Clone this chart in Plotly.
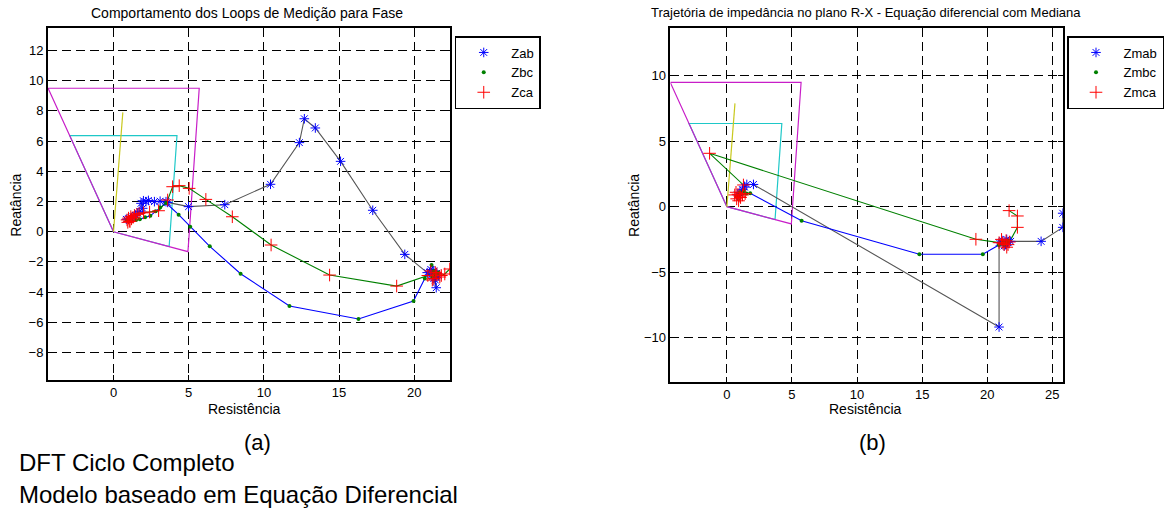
import plotly.graph_objects as go

W, H = 1164, 513
FONT = "Liberation Sans, Arial, sans-serif"

# ---------------- data: plot (a) ----------------
zab_r = [0.85, 1.0, 1.15, 1.3, 1.45, 1.61, 1.75, 1.94, 1.83, 1.99, 2.16, 2.32, 2.72, 3.1, 3.49, 3.6,
         4.99, 7.4, 10.44, 12.36, 12.69, 13.42, 15.1, 17.24, 19.37, 20.86,
         21.1, 21.3, 21.5, 21.2, 21.4, 21.6, 21.3, 21.46, 21.35, 21.2]
zab_x = [0.82, 0.86, 0.9, 0.98, 1.08, 1.22, 1.35, 1.55, 1.88, 2.05, 1.99, 2.07, 1.99, 2.02, 1.99, 1.94,
         1.66, 1.79, 3.14, 5.9, 7.48, 6.87, 4.66, 1.42, -1.5, -2.71,
         -2.5, -2.6, -2.75, -3.0, -3.2, -2.9, -3.1, -3.71, -2.85, -2.8]

zbc_r = [0.9, 1.2, 1.5, 1.75, 2.1, 2.45, 2.8, 3.1, 3.5, 4.33, 5.1, 6.4, 8.45, 11.7, 16.29, 19.95,
         20.7, 21.15, 21.3, 21.5, 21.2, 21.4, 21.6, 21.3]
zbc_x = [0.75, 0.72, 0.78, 0.83, 0.95, 1.05, 1.35, 1.6, 1.9, 1.13, 0.33, -0.97, -2.78, -4.92, -5.78, -4.59,
         -3.1, -2.2, -2.6, -2.8, -3.0, -2.9, -2.7, -2.85]

zca_r = [0.95, 1.05, 0.9, 1.1, 1.2, 1.0, 1.3, 1.15, 1.4, 1.55, 1.7, 2.0, 2.4, 3.0, 3.6, 3.93, 4.37, 5.03,
         6.14, 7.9, 10.48, 14.37, 18.83, 20.9, 21.1, 21.3, 21.5, 21.7, 21.2, 21.4, 21.8, 22.03, 22.36]
zca_x = [0.62, 0.7, 0.78, 0.68, 0.85, 0.9, 0.95, 1.0, 1.08, 1.15, 1.2, 1.25, 1.3, 1.39, 2.1, 2.98, 3.05, 2.87,
         2.14, 0.99, -0.88, -2.87, -3.6, -2.9, -2.6, -3.1, -2.8, -3.0, -3.2, -2.7, -2.9, -2.8, -2.47]

# ---------------- data: plot (b) ----------------
zmab_r = [0.8, 1.0, 1.2, 1.35, 1.53, 2.04, 20.91, 20.91, 21.2, 21.4, 21.6, 21.3, 21.5, 21.8, 24.14, 25.8, 25.8]
zmab_x = [0.9, 1.1, 1.3, 1.5, 1.7, 1.7, -9.2, -2.75, -2.6, -2.9, -2.7, -3.0, -2.5, -2.65, -2.65, -1.58, -0.5]

zmbc_r = [0.8, 1.0, 1.3, 1.5, 1.79, 5.74, 14.79, 19.66, 20.9, 21.2, 21.4, 21.6, 21.3, 21.5]
zmbc_x = [0.8, 1.1, 1.2, 1.0, 1.02, -1.07, -3.64, -3.64, -2.93, -2.7, -2.8, -2.6, -2.9, -2.75]

zmca_r = [0.6, 0.75, 0.9, 1.05, 0.7, 0.85, 1.0, 1.2, 1.4, 1.27, -1.33, 19.13, 20.91, 21.1, 21.3, 21.5,
          21.7, 21.2, 21.45, 21.6, 22.32, 22.32, 21.68]
zmca_x = [0.9, 0.6, 0.45, 0.7, 1.1, 0.95, 0.8, 0.9, 1.0, 1.66, 4.08, -2.49, -2.75, -2.5, -2.9, -3.1,
          -2.7, -2.8, -2.6, -2.9, -1.58, -0.71, -0.3]

# ---------------- relay zone characteristics (both plots) ----------------
zone2_r = [-4.35, 5.7, 4.95, 0, -4.35]
zone2_x = [9.5, 9.5, -1.32, 0, 9.5]
zone1_r = [0, 3.7, 4.22, -2.91, 0]
zone1_x = [0, -0.98, 6.36, 6.36, 0]
dir_r = [0, 0.62]
dir_x = [0, 7.9]

# ---------------- labels ----------------
names_a = ["Zab", "Zbc", "Zca"]
names_b = ["Zmab", "Zmbc", "Zmca"]
title_a = "Comportamento dos Loops de Medição para Fase"
title_b = "Trajetória de impedância no plano R-X - Equação diferencial com Mediana"
xlab = "Resistência"
ylab = "Reatância"
xt_a = [0, 5, 10, 15, 20]
yt_a = [-8, -6, -4, -2, 0, 2, 4, 6, 8, 10, 12]
xt_b = [0, 5, 10, 15, 20, 25]
yt_b = [-10, -5, 0, 5, 10]

BLUE, GREEN, RED, GRAY = "#0000ff", "#008000", "#ff0000", "#555555"
MAG, CYA, YEL = "#c81ec8", "#1ec8c8", "#c8c81e"

fig = go.Figure()


def add_panel(xa, ya, leg, r1, x1, r2, x2, r3, x3, names):
    for rr, xx, col in [(zone1_r, zone1_x, CYA), (zone2_r, zone2_x, MAG), (dir_r, dir_x, YEL)]:
        fig.add_trace(go.Scatter(x=rr, y=xx, mode="lines", line=dict(color=col, width=1.2),
                                 xaxis=xa, yaxis=ya, showlegend=False, hoverinfo="skip"))
    for rr, xx, col in [(r1, x1, GRAY), (r2, x2, BLUE), (r3, x3, GREEN)]:
        fig.add_trace(go.Scatter(x=rr, y=xx, mode="lines", line=dict(color=col, width=1.1),
                                 xaxis=xa, yaxis=ya, showlegend=False, hoverinfo="skip"))
    fig.add_trace(go.Scatter(x=r1, y=x1, mode="markers", name=names[0], legend=leg,
                             marker=dict(symbol="asterisk-open", size=8, color=BLUE, line=dict(width=1)),
                             xaxis=xa, yaxis=ya))
    fig.add_trace(go.Scatter(x=r2, y=x2, mode="markers", name=names[1], legend=leg,
                             marker=dict(symbol="circle", size=4, color=GREEN),
                             xaxis=xa, yaxis=ya))
    fig.add_trace(go.Scatter(x=r3, y=x3, mode="markers", name=names[2], legend=leg,
                             marker=dict(symbol="cross-thin-open", size=9, color=RED, line=dict(width=1)),
                             xaxis=xa, yaxis=ya))


add_panel("x", "y", "legend", zab_r, zab_x, zbc_r, zbc_x, zca_r, zca_x, names_a)
add_panel("x2", "y2", "legend2", zmab_r, zmab_x, zmbc_r, zmbc_x, zmca_r, zmca_x, names_b)

ax_common = dict(showline=True, linecolor="black", linewidth=1.5, mirror="ticks",
                 ticks="inside", ticklen=5, tickcolor="black", tickwidth=1,
                 showgrid=True, gridcolor="black", gridwidth=1, griddash="9px,5px",
                 zeroline=False, tickfont=dict(family=FONT, size=13, color="black"),
                 fixedrange=True)

leg_common = dict(y=1 - 36 / H, xanchor="left", yanchor="top", bgcolor="white",
                  bordercolor="black", borderwidth=1.5, itemwidth=45,
                  font=dict(family=FONT, size=13, color="black"))

fig.update_layout(
    width=W, height=H, margin=dict(l=0, r=0, t=0, b=0),
    paper_bgcolor="white", plot_bgcolor="white",
    font=dict(family=FONT, color="black"),
    xaxis=dict(domain=[48 / W, 452 / W], range=[-4.37, 22.38], tickvals=xt_a, anchor="y", **ax_common),
    yaxis=dict(domain=[1 - 380 / H, 1 - 28 / H], range=[-9.82, 13.49], tickvals=yt_a, anchor="x", **ax_common),
    xaxis2=dict(domain=[673.3 / W, 1067.3 / W], range=[-4.34, 25.8], tickvals=xt_b, anchor="y2", **ax_common),
    yaxis2=dict(domain=[1 - 381.7 / H, 1 - 28 / H], range=[-13.38, 13.66], tickvals=yt_b, anchor="x2", **ax_common),
    legend=dict(x=456.7 / W, **leg_common),
    legend2=dict(x=1071.7 / W, **leg_common),
)


def txt(text, xp, yp, size, xanchor="center", angle=0):
    fig.add_annotation(text=text, x=xp / W, y=1 - yp / H, xref="paper", yref="paper",
                       xanchor=xanchor, yanchor="middle", showarrow=False, textangle=angle,
                       font=dict(family=FONT, size=size, color="black"))


txt(title_a, 247.9, 12.5, 14)
txt(title_b, 869.7, 12.5, 13)
txt(xlab, 245.3, 409, 14)
txt(xlab, 869.7, 409, 14)
txt(ylab, 15.8, 205, 14, angle=-90)
txt(ylab, 636.7, 205, 14, angle=-90)
txt("(a)", 258.8, 442, 22)
txt("(b)", 876, 442, 22)
txt("DFT Ciclo Completo", 17, 462, 24, xanchor="left")
txt("Modelo baseado em Equação Diferencial", 17, 494.5, 24, xanchor="left")

fig.write_html("out.html")
